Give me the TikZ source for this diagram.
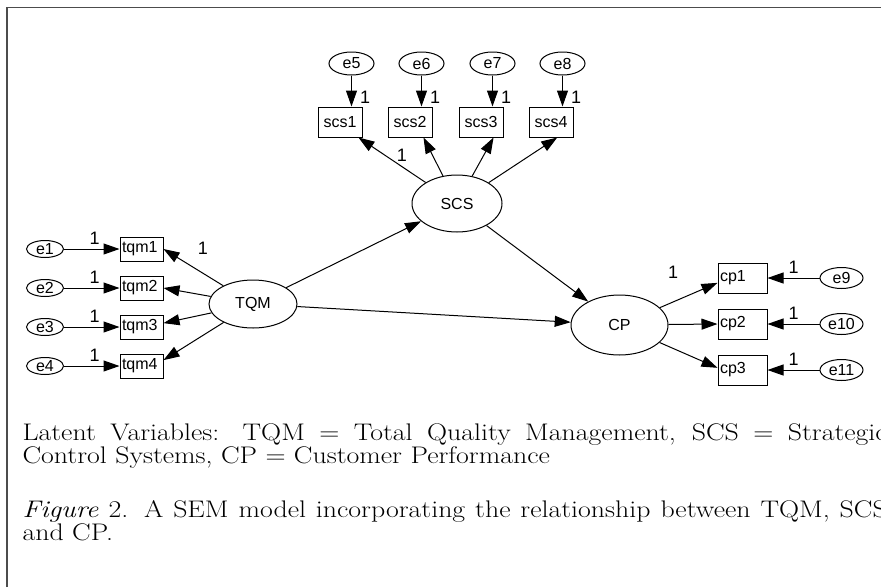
\documentclass[tikz,border=0pt]{standalone}
\usepackage{fontspec}
\setsansfont{Liberation Sans}
\usetikzlibrary{arrows.meta,shapes.geometric}
\newcommand\captfont{\rmfamily\fontsize{24}{21.5}\selectfont}

\begin{document}
\begin{tikzpicture}[x=1pt,y=-1pt,line width=1pt,
  font=\sffamily\fontsize{16}{18}\selectfont,
  obs/.style={draw,rectangle,inner sep=2pt},
  err/.style={draw,ellipse,inner sep=0pt},
  lat/.style={draw,ellipse,inner sep=0pt},
  arr/.style={-{Triangle[length=16pt,width=11pt]}},
  one/.style={font=\sffamily\fontsize{18}{20}\selectfont,inner sep=1pt},
  capt/.style={anchor=north west,text width=745pt,align=justify,inner sep=0pt,
    xscale=1.16,transform shape,font=\captfont}]
  \useasboundingbox (0,0) rectangle (881,587);
  \draw[line width=1.8pt,black!70] (7,587) -- (7,7.5) -- (881,7.5);
  % latent variables
  \node[lat,minimum width=90pt,minimum height=57pt] (SCS) at (457,203.5) {SCS};
  \node[lat,minimum width=88pt,minimum height=48pt] (TQM) at (253,304) {TQM};
  \node[lat,minimum width=97pt,minimum height=60pt] (CP) at (619.5,325) {CP};
  % scs indicators
  \foreach \i/\e/\x in {1/5/340,2/6/410,3/7/481,4/8/551}{
    \node[obs,minimum width=44pt,minimum height=30pt] (scs\i) at (\x,122) {scs\i};
    \node[err,minimum width=45pt,minimum height=23pt] (e\e) at (\x+11.5,63.5) {e\e};
    \draw[arr] (e\e) -- (e\e |- scs\i.north) node[one,pos=0.7,right=7pt] {1};
  }
  \foreach \i/\a in {1/-40,2/-49,3/-51,4/-68} \draw[arr] (SCS) -- (scs\i.\a);
  \node[one] (l1) at (402,155) {1};
  % tqm indicators
  \foreach \i/\y in {1/249,2/288,3/327,4/366}{
    \node[obs,minimum height=24pt,text width=39pt,align=left] (tqm\i) at (141.5,\y) {tqm\i};
    \node[err,minimum width=37pt,minimum height=17pt] (e\i) at (45,\y) {e\i};
    \draw[arr] (e\i) -- (tqm\i) node[one,pos=0.55,above=3pt] {1};
  }
  \foreach \i/\a in {1/0,2/0,3/10,4/15} \draw[arr] (TQM) -- (tqm\i.\a);
  \node[one] (l2) at (203,248) {1};
  % cp indicators
  \foreach \i/\e/\y in {1/9/278,2/10/324,3/11/370}{
    \node[obs,minimum height=30pt,text width=45pt,align=left] (cp\i) at (742.5,\y) {cp\i};
    \node[err,minimum width=43pt,minimum height=21pt] (e\e) at (841.5,\y) {e\e};
    \draw[arr] (e\e) -- (cp\i) node[one,midway,above=3pt] {1};
  }
  \foreach \i/\a in {1/191,2/180,3/175} \draw[arr] (CP) -- (cp\i.\a);
  \node[one] (l3) at (673,272) {1};
  % structural paths
  \draw[arr] (TQM) -- (SCS);
  \draw[arr] (TQM) -- (CP);
  \draw[arr] (SCS) -- (CP);
  % caption
  \node[capt] (legend) at (22,423.3)
    {Latent Variables: TQM = Total Quality Management, SCS = Strategic\linebreak Control Systems, CP = Customer Performance};
  \node[capt] (caption) at (22,500)
    {\textit{Figure} 2. A SEM model incorporating the relationship between TQM, SCS\linebreak and CP.};
\end{tikzpicture}
\end{document}
